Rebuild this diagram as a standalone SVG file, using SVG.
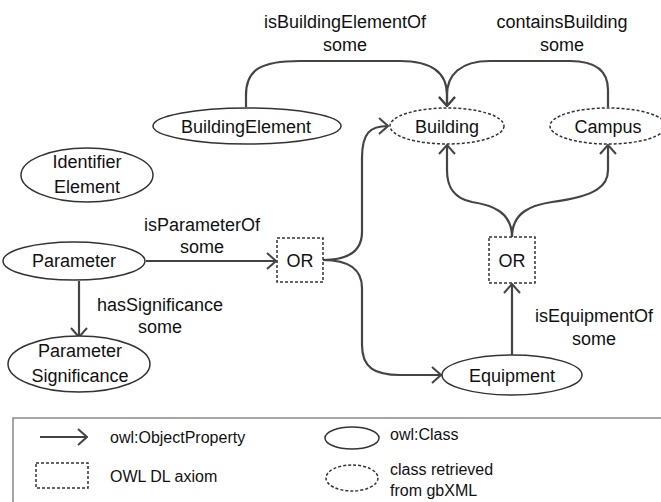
<svg xmlns="http://www.w3.org/2000/svg" width="661" height="502" viewBox="0 0 661 502">
<defs>
<style>
text{font-family:"Liberation Sans",Arial,sans-serif;font-size:18px;fill:#111;text-anchor:middle}
.lg{font-size:16px;text-anchor:start}
.cls{fill:#fff;stroke:#333;stroke-width:1.5}
.gb{fill:#fff;stroke:#333;stroke-width:1.5;stroke-dasharray:3 2}
.ax{fill:#fff;stroke:#333;stroke-width:1.5;stroke-dasharray:3 2}
.e{fill:none;stroke:#444;stroke-width:2.2}
</style>
<marker id="arr" viewBox="0 0 11 18" refX="10" refY="9" markerWidth="11" markerHeight="18" orient="auto" markerUnits="userSpaceOnUse">
<path d="M1,1 L10,9 L1,17" fill="none" stroke="#444" stroke-width="2"/>
</marker>
</defs>
<rect width="661" height="502" fill="#fff"/>
<g id="connectors">
<path class="e" d="M246,107 L246,95 C246,70 260,61 300,61 L400,61 C435,61 447,75 447,95 L447,106" marker-end="url(#arr)"/>
<path class="e" d="M608,107 L608,90 C608,70 595,61 570,61 L490,61 C460,61 447,75 447,95 L447,106" marker-end="url(#arr)"/>
<path class="e" d="M146,261 L276,261" marker-end="url(#arr)"/>
<path class="e" d="M79,281 L79,337" marker-end="url(#arr)"/>
<path class="e" d="M323,260 C348,260 362,252 362,232 L362,158 C362,133 370,126 388,126" marker-end="url(#arr)"/>
<path class="e" d="M323,260 C348,260 362,268 362,288 L362,345 C362,368 375,375 400,375 L441,375" marker-end="url(#arr)"/>
<path class="e" d="M512,355 L512,284" marker-end="url(#arr)"/>
<path class="e" d="M512,237 C512,212 492,205 472,202 C452,198 447,185 447,170 L447,145" marker-end="url(#arr)"/>
<path class="e" d="M512,237 C512,212 532,205 552,202 C598,196 608,185 608,170 L608,145" marker-end="url(#arr)"/>
</g>
<g id="labels">
<text x="345" y="28">isBuildingElementOf</text>
<text x="345" y="51">some</text>
<text x="562" y="28">containsBuilding</text>
<text x="562" y="51">some</text>
<text x="202" y="231">isParameterOf</text>
<text x="202" y="253">some</text>
<text x="160" y="311">hasSignificance</text>
<text x="160" y="333">some</text>
<text x="594" y="322">isEquipmentOf</text>
<text x="594" y="345">some</text>
</g>
<g id="BuildingElement"><ellipse class="cls" cx="247" cy="126" rx="94" ry="18"/><text x="246" y="133">BuildingElement</text></g>
<g id="Building"><ellipse class="gb" cx="447" cy="126" rx="57" ry="18"/><text x="447" y="133">Building</text></g>
<g id="Campus"><ellipse class="gb" cx="608" cy="126" rx="58" ry="18"/><text x="608" y="133">Campus</text></g>
<g id="IdentifierElement"><ellipse class="cls" cx="87" cy="175" rx="66" ry="27"/><text x="87" y="168">Identifier</text><text x="87" y="193">Element</text></g>
<g id="Parameter"><ellipse class="cls" cx="74" cy="261" rx="71" ry="19"/><text x="74" y="267">Parameter</text></g>
<g id="ParameterSignificance"><ellipse class="cls" cx="79" cy="364" rx="71" ry="28"/><text x="80" y="357">Parameter</text><text x="80" y="382">Significance</text></g>
<g id="OR1"><rect class="ax" x="277" y="238" width="46" height="44"/><text x="300" y="267">OR</text></g>
<g id="OR2"><rect class="ax" x="489" y="237" width="46" height="46"/><text x="512" y="267">OR</text></g>
<g id="Equipment"><ellipse class="cls" cx="512" cy="375" rx="70" ry="20"/><text x="512" y="382">Equipment</text></g>
<g id="legend">
<rect x="13" y="418" width="660" height="100" fill="none" stroke="#888" stroke-width="1.5"/>
<path class="e" d="M40,437 L87,437" marker-end="url(#arr)"/>
<text class="lg" x="110" y="443">owl:ObjectProperty</text>
<rect class="ax" x="36" y="463" width="52" height="25"/>
<text class="lg" x="110" y="482">OWL DL axiom</text>
<ellipse class="cls" cx="352" cy="438" rx="27" ry="11"/>
<text class="lg" x="390" y="440">owl:Class</text>
<ellipse class="gb" cx="352" cy="478" rx="26" ry="13"/>
<text class="lg" x="390" y="475">class retrieved</text>
<text class="lg" x="390" y="496">from gbXML</text>
</g>
</svg>
